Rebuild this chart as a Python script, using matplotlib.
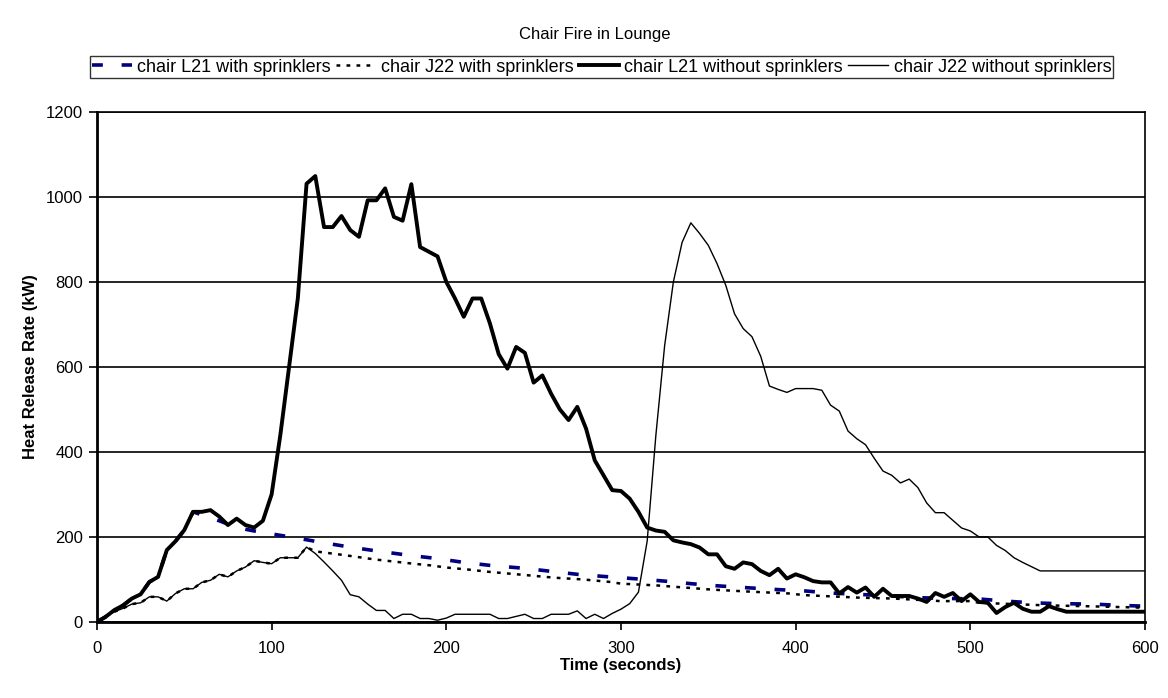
import numpy as np
import matplotlib
matplotlib.use("Agg")
import matplotlib.pyplot as plt

plt.rcParams['font.family'] = ['Liberation Sans', 'DejaVu Sans']

# chair L21 without sprinklers (5 s steps)
t_l21 = np.arange(0, 605, 5)
hrr_l21 = [0, 12, 28, 39, 55, 65, 94, 106, 169, 190,
           216, 259, 259, 263, 248, 228, 243, 228, 222, 238,
           300, 440, 600, 761, 1031, 1049, 929, 929, 955, 922,
           906, 992, 992, 1020, 953, 944, 1030, 882, 871, 860,
           800, 761, 718, 761, 761, 702, 630, 596, 647, 633,
           563, 580, 537, 500, 475, 506, 455, 380, 345, 310,
           308, 290, 259, 222, 215, 212, 192, 187, 183, 175,
           159, 159, 131, 125, 140, 136, 120, 110, 125, 102,
           112, 105, 96, 93, 93, 67, 82, 69, 81, 59,
           78, 61, 61, 61, 55, 47, 68, 59, 68, 49,
           65, 47, 45, 21, 35, 45, 31, 24, 24, 37,
           30, 24, 24, 24, 24, 24, 24, 24, 24, 24,
           24]

# chair J22 without sprinklers (5 s steps)
t_j22 = np.arange(0, 605, 5)
hrr_j22 = [0, 14, 24, 32, 42, 45, 59, 59, 49, 67,
           78, 78, 93, 98, 112, 106, 120, 129, 144, 140,
           137, 151, 151, 151, 176, 161, 141, 120, 98, 64,
           59, 42, 27, 27, 8, 18, 18, 8, 8, 4,
           9, 18, 18, 18, 18, 18, 8, 8, 13, 18,
           8, 8, 18, 18, 18, 26, 8, 18, 8, 20,
           30, 43, 70, 190, 440, 650, 800, 893, 939, 914,
           886, 843, 792, 725, 690, 671, 625, 555, 547, 540,
           549, 549, 549, 545, 510, 496, 449, 431, 417, 385,
           355, 345, 327, 336, 316, 280, 257, 257, 239, 221,
           214, 200, 200, 180, 168, 151, 140, 130, 120, 120,
           120, 120, 120, 120, 120, 120, 120, 120, 120, 120,
           120]

# chair L21 with sprinklers
t_l21s = [0, 5, 10, 15, 20, 25, 30, 35, 40, 45, 50, 55,
          60, 70, 80, 90, 100, 115, 130, 145, 160, 180, 195,
          210, 225, 245, 260, 275, 290, 310, 325, 340, 355, 370,
          390, 405, 420, 440, 455, 470, 490, 505, 520, 535, 550,
          570, 585, 600]
hrr_l21s = [0, 12, 28, 39, 55, 65, 94, 106, 169, 190, 216, 259,
            252, 238, 222, 214, 207, 197, 186, 176, 167, 156, 149,
            140, 133, 126, 119, 112, 107, 101, 96, 90, 85, 81,
            76, 73, 68, 64, 61, 57, 55, 54, 49, 45, 43,
            42, 39, 37]

# chair J22 with sprinklers
t_j22s = [0, 5, 10, 15, 20, 25, 30, 35, 40, 45, 50, 55, 60,
          65, 70, 75, 80, 85, 90, 95, 100, 105, 110, 115, 120,
          125, 142, 159, 181, 191, 200, 213, 224, 246, 262, 278,
          294, 300, 320, 336, 352, 375, 396, 405, 437, 456, 483,
          500, 505, 543, 566, 595, 600]
hrr_j22s = [0, 14, 24, 32, 42, 45, 59, 59, 49, 67, 78, 78, 93,
            98, 112, 106, 120, 129, 144, 140, 137, 151, 151, 151, 176,
            166, 157, 147, 137, 133, 128, 123, 118, 110, 104, 100,
            94, 90, 86, 81, 76, 71, 67, 63, 57, 55, 49,
            49, 45, 39, 37, 34, 33]

fig = plt.figure(figsize=(11.68, 6.98), dpi=100)
ax = fig.add_axes([0.083, 0.109, 0.8973, 0.7307])

ax.plot(t_l21s, hrr_l21s, color='#000080', lw=2.6, linestyle=(0, (3, 5.2)),
        label='chair L21 with sprinklers', zorder=3)
ax.plot(t_j22s, hrr_j22s, color='black', lw=1.8, linestyle=(0, (1.5, 2.5)),
        label='chair J22 with sprinklers', zorder=3)
ax.plot(t_l21, hrr_l21, color='black', lw=2.8,
        label='chair L21 without sprinklers', zorder=4)
ax.plot(t_j22, hrr_j22, color='black', lw=1.0,
        label='chair J22 without sprinklers', zorder=4)

ax.set_xlim(0, 600)
ax.set_ylim(0, 1200)
ax.set_xticks(np.arange(0, 601, 100))
ax.set_yticks(np.arange(0, 1201, 200))
ax.yaxis.grid(True, color='black', lw=1.2)
ax.set_axisbelow(True)
for s in ['left', 'bottom']:
    ax.spines[s].set_linewidth(2.0)
for s in ['top', 'right']:
    ax.spines[s].set_linewidth(1.2)
ax.tick_params(direction='out', length=6, width=1.2, labelsize=12)
ax.tick_params(axis='x', pad=8)
ax.tick_params(axis='y', pad=4)

ax.set_xlabel('Time (seconds)', fontsize=12, fontweight='bold', labelpad=1)
ax.set_ylabel('Heat Release Rate (kW)', fontsize=12, fontweight='bold', labelpad=6)

fig.text(0.509, 0.951, 'Chair Fire in Lounge', ha='center', va='center', fontsize=12)

leg = fig.legend(loc='center', bbox_to_anchor=(0.515, 0.904), ncol=4, fontsize=13,
                 frameon=True, fancybox=False, edgecolor='black', handlelength=2.2,
                 handletextpad=0.3, columnspacing=0.3, borderpad=0.12,
                 borderaxespad=0)
leg.get_frame().set_linewidth(1.0)

fig.savefig('out.png', dpi=100)
